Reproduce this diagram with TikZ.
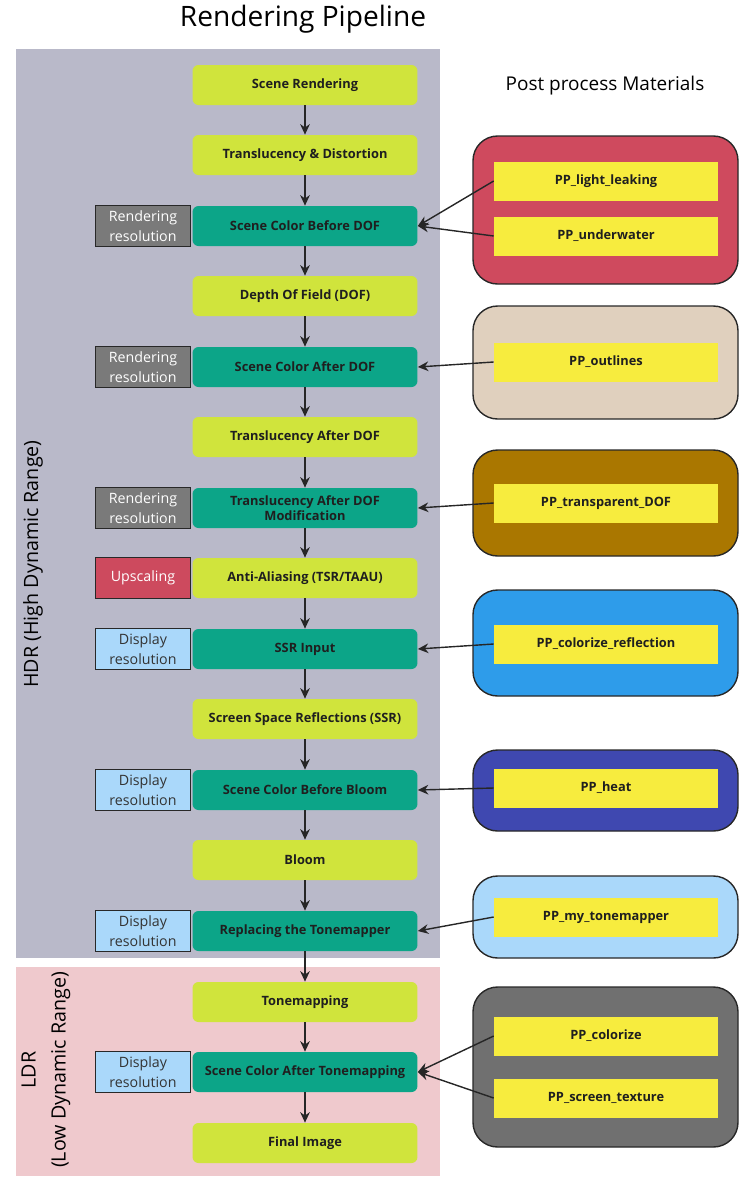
\documentclass[tikz,border=0pt]{standalone}
\usepackage{fontspec}
\setmainfont{Open Sans}
\usetikzlibrary{arrows.meta,positioning}

\definecolor{hdrbg}{RGB}{185,185,201}
\definecolor{ldrbg}{RGB}{239,201,205}
\definecolor{stagelime}{RGB}{208,228,60}
\definecolor{stageteal}{RGB}{12,165,136}
\definecolor{resgray}{RGB}{122,122,122}
\definecolor{upred}{RGB}{205,74,94}
\definecolor{disblue}{RGB}{170,216,250}
\definecolor{ppyellow}{RGB}{247,236,62}
\definecolor{grpred}{RGB}{207,74,94}
\definecolor{grpbeige}{RGB}{224,208,190}
\definecolor{grpbrown}{RGB}{170,119,0}
\definecolor{grpblue}{RGB}{46,156,234}
\definecolor{grpnavy}{RGB}{63,72,176}
\definecolor{grpgray}{RGB}{112,112,112}
\definecolor{boxline}{RGB}{40,40,40}

\begin{document}
\begin{tikzpicture}[x=0.02cm, y=-0.02cm,
    stage/.style={rounded corners=3.4pt, minimum width=4.5cm, minimum height=0.8cm,
        align=center, inner sep=1pt, text=black!88, font=\fontsize{7.3}{8.6}\selectfont\bfseries},
    plain/.style={stage, fill=stagelime},
    pass/.style={stage, fill=stageteal},
    res/.style={draw=boxline, line width=0.8pt, minimum width=1.9cm, minimum height=0.82cm,
        align=center, inner sep=1pt, font=\fontsize{8.1}{11.3}\selectfont},
    ppmat/.style={fill=ppyellow, minimum width=4.48cm, minimum height=0.78cm,
        inner sep=1pt, text=black!88, font=\fontsize{7.3}{8.6}\selectfont\bfseries},
    group/.style={draw=boxline, line width=0.8pt, rounded corners=14pt},
    flow/.style={-{Stealth[length=6pt,width=5.5pt]}, line width=0.8pt, color=black!85},
]
    \useasboundingbox (0,0) rectangle (751,1181);

    % titles
    \node (title) at (303,19) {\fontsize{16}{18}\selectfont Rendering Pipeline};
    \node (pptitle) at (605,86) {\fontsize{10.8}{12}\selectfont Post process Materials};

    % HDR / LDR areas
    \fill[hdrbg] (16,49) rectangle (440,958);
    \fill[ldrbg] (16,967) rectangle (440,1176);
    \node[rotate=90, font=\fontsize{11.2}{13}\selectfont] (hdr) at (33,564) {HDR (High Dynamic Range)};
    \node[rotate=90, align=center, font=\fontsize{11.2}{17}\selectfont] (ldr) at (46,1070) {LDR\\(Low Dynamic Range)};

    % pipeline
    \foreach \name/\y/\kind/\txt in {
        render/85/plain/{Scene Rendering},
        transl/155/plain/{Translucency \& Distortion},
        scbdof/226/pass/{Scene Color Before DOF},
        dof/296/plain/{Depth Of Field (DOF)},
        scadof/367/pass/{Scene Color After DOF},
        tradof/437/plain/{Translucency After DOF},
        tradofmod/508/pass/{Translucency After DOF\\Modification},
        aa/578/plain/{Anti-Aliasing (TSR/TAAU)},
        ssrin/649/pass/{SSR Input},
        ssr/719/plain/{Screen Space Reflections (SSR)},
        scbbloom/790/pass/{Scene Color Before Bloom},
        bloom/860/plain/{Bloom},
        tonerep/931/pass/{Replacing the Tonemapper},
        tonemap/1002/plain/{Tonemapping},
        scatone/1072/pass/{Scene Color After Tonemapping},
        final/1143/plain/{Final Image}}
        \node[\kind] (\name) at (305,\y) {\txt};

    \foreach \a/\b in {render/transl, transl/scbdof, scbdof/dof, dof/scadof,
        scadof/tradof, tradof/tradofmod, tradofmod/aa, aa/ssrin, ssrin/ssr,
        ssr/scbbloom, scbbloom/bloom, bloom/tonerep, tonerep/tonemap,
        tonemap/scatone, scatone/final}
        \draw[flow] (\a) -- (\b);

    % resolution tags
    \foreach \name in {scbdof, scadof, tradofmod}
        \node[res, fill=resgray, text=white, left=0.02cm of \name] (res-\name) {Rendering\\resolution};
    \node[res, fill=upred, text=white, left=0.02cm of aa] (res-aa) {Upscaling};
    \foreach \name in {ssrin, scbbloom, tonerep, scatone}
        \node[res, fill=disblue, text=black!80, left=0.02cm of \name] (res-\name) {Display\\resolution};

    % post process materials
    \draw[group, fill=grpred] (473,136) rectangle (738,284);
    \draw[group, fill=grpbeige] (473,306) rectangle (738,419);
    \draw[group, fill=grpbrown] (473,450) rectangle (738,556);
    \draw[group, fill=grpblue] (473,590) rectangle (738,696);
    \draw[group, fill=grpnavy] (473,750) rectangle (738,831);
    \draw[group, fill=disblue] (473,876) rectangle (738,958);
    \draw[group, fill=grpgray] (473,987) rectangle (738,1147);

    \node[ppmat] (lightleak) at (606,181) {PP\_light\_leaking};
    \node[ppmat] (underwater) at (606,236) {PP\_underwater};
    \node[ppmat] (outlines) at (606,362) {PP\_outlines};
    \node[ppmat] (transdof) at (606,503) {PP\_transparent\_DOF};
    \node[ppmat] (colrefl) at (606,644) {PP\_colorize\_reflection};
    \node[ppmat] (heat) at (606,788) {PP\_heat};
    \node[ppmat] (mytone) at (606,917) {PP\_my\_tonemapper};
    \node[ppmat] (colorize) at (606,1036) {PP\_colorize};
    \node[ppmat] (screentex) at (606,1098) {PP\_screen\_texture};

    \draw[flow] (lightleak.west) -- (scbdof.east);
    \draw[flow] (underwater.west) -- (scbdof.east);
    \draw[flow] (outlines.west) -- (scadof.east);
    \draw[flow] (transdof.west) -- (tradofmod.east);
    \draw[flow] (colrefl.west) -- (ssrin.east);
    \draw[flow] (heat.west) -- (scbbloom.east);
    \draw[flow] (mytone.west) -- (tonerep.east);
    \draw[flow] (colorize.west) -- (scatone.east);
    \draw[flow] (screentex.west) -- (scatone.east);
\end{tikzpicture}
\end{document}
